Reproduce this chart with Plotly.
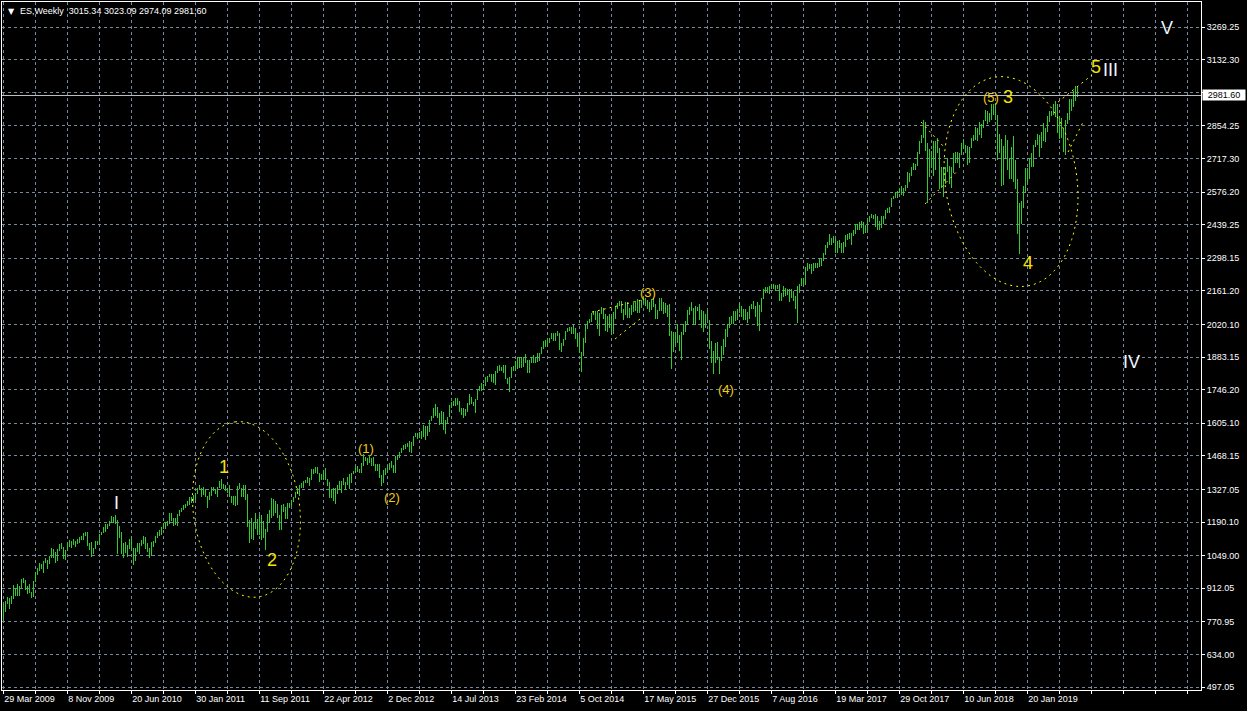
import pandas as pd
import numpy as np
import plotly.graph_objects as go

# ---------------- data (weekly bars, week starting Sunday) ----------------
first_week = "2009-03-29"
symbol = "ES,Weekly"
header_ohlc = [3015.34, 3023.09, 2974.09, 2981.60]

low_2009 = [779, 814, 844, 826, 845, 865, 878, 880, 881, 915, 932, 903, 888, 893, 869, 875, 937, 967, 985, 991,
            978, 1017, 991, 1015, 1040, 1039, 1019, 1025, 1069, 1075, 1033, 1029, 1067, 1085, 1083, 1095, 1086, 1097, 1102, 1114]
high_2009 = [845, 857, 876, 870, 880, 925, 915, 930, 920, 951, 956, 945, 922, 931, 898, 943, 980, 996, 1018, 1013,
             1027, 1039, 1029, 1049, 1080, 1078, 1066, 1076, 1096, 1101, 1086, 1071, 1101, 1113, 1112, 1119, 1112, 1118, 1128, 1130]

low_2010 = [1116, 1131, 1090, 1071, 1044, 1056, 1075, 1092, 1099, 1135, 1143, 1150, 1161, 1175, 1186, 1185, 1181,
            1056, 1125, 1056, 1040, 1060, 1043, 1078, 1067, 1010, 1028, 1064, 1056, 1088, 1098, 1076, 1064, 1040, 1046,
            1086, 1101, 1122, 1131, 1136, 1159, 1160, 1174, 1180, 1194, 1173, 1176, 1173, 1216, 1232, 1240, 1251]
high_2010 = [1145, 1150, 1150, 1103, 1105, 1080, 1112, 1111, 1140, 1150, 1170, 1181, 1181, 1195, 1214, 1213, 1220,
             1200, 1173, 1150, 1104, 1106, 1092, 1120, 1131, 1080, 1079, 1100, 1104, 1115, 1130, 1129, 1100, 1081, 1105,
             1112, 1131, 1149, 1158, 1168, 1185, 1190, 1196, 1227, 1226, 1207, 1206, 1225, 1240, 1248, 1260, 1264]

low_2011 = [1257, 1262, 1271, 1270, 1281, 1306, 1323, 1294, 1302, 1294, 1249, 1284, 1300, 1322, 1306, 1294, 1332,
            1330, 1329, 1322, 1310, 1297, 1268, 1262, 1258, 1262, 1330, 1295, 1294, 1282, 1168, 1101, 1120, 1114, 1160,
            1136, 1137, 1115, 1125, 1074, 1150, 1188, 1208, 1215, 1226, 1209, 1158, 1158, 1231, 1202, 1202, 1248]
high_2011 = [1278, 1294, 1297, 1303, 1312, 1331, 1344, 1333, 1337, 1330, 1300, 1316, 1336, 1339, 1329, 1339, 1364,
             1370, 1351, 1346, 1335, 1346, 1301, 1298, 1298, 1340, 1356, 1333, 1347, 1345, 1307, 1200, 1208, 1190, 1230,
             1204, 1220, 1220, 1195, 1160, 1224, 1240, 1292, 1285, 1277, 1266, 1218, 1260, 1267, 1255, 1268, 1270]

low_2012 = [1258, 1274, 1290, 1306, 1300, 1333, 1335, 1354, 1355, 1340, 1368, 1391, 1398, 1392, 1357, 1366, 1366, 1367,
            1343, 1291, 1291, 1277, 1266, 1306, 1323, 1310, 1346, 1325, 1345, 1329, 1354, 1393, 1400, 1402, 1397,
            1396, 1426, 1448, 1430, 1437, 1425, 1426, 1403, 1405, 1373, 1343, 1355, 1387, 1398, 1408, 1418, 1398, 1398]
high_2012 = [1284, 1296, 1316, 1333, 1345, 1355, 1363, 1368, 1378, 1374, 1413, 1414, 1420, 1423, 1398, 1392, 1405, 1416,
             1370, 1358, 1328, 1334, 1335, 1345, 1364, 1362, 1375, 1357, 1380, 1392, 1395, 1406, 1420, 1426, 1414,
             1438, 1474, 1465, 1460, 1470, 1460, 1465, 1435, 1434, 1434, 1388, 1410, 1417, 1422, 1438, 1448, 1430, 1467]

low_2013 = [1451, 1461, 1481, 1493, 1495, 1506, 1485, 1478, 1511, 1548, 1538, 1545, 1539, 1548, 1536, 1550, 1570,
            1614, 1625, 1635, 1628, 1598, 1600, 1576, 1560, 1600, 1630, 1670, 1677, 1676, 1683, 1652, 1639, 1627,
            1636, 1654, 1682, 1686, 1676, 1646, 1701, 1740, 1742, 1746, 1760, 1780, 1798, 1779, 1772, 1767, 1817, 1826]
high_2013 = [1472, 1485, 1503, 1514, 1518, 1524, 1530, 1525, 1552, 1564, 1563, 1570, 1573, 1597, 1593, 1592, 1618,
             1635, 1668, 1687, 1674, 1647, 1655, 1654, 1620, 1632, 1680, 1693, 1698, 1709, 1709, 1697, 1670, 1670,
             1666, 1689, 1729, 1717, 1696, 1705, 1745, 1761, 1775, 1771, 1798, 1805, 1813, 1810, 1811, 1823, 1844, 1849]

low_2014 = [1823, 1815, 1790, 1770, 1737, 1795, 1824, 1825, 1834, 1839, 1839, 1842, 1857, 1814, 1814, 1856, 1860,
            1860, 1862, 1868, 1897, 1915, 1925, 1925, 1944, 1957, 1952, 1951, 1970, 1914, 1904, 1928, 1953, 1990, 1993,
            1980, 1978, 1960, 1926, 1902, 1820, 1886, 1940, 2001, 2025, 2030, 2060, 2040, 2000, 1972, 2065, 2043]
high_2014 = [1843, 1850, 1850, 1795, 1798, 1841, 1847, 1867, 1883, 1883, 1884, 1884, 1897, 1872, 1869, 1885, 1891,
             1883, 1902, 1901, 1925, 1950, 1955, 1963, 1965, 1985, 1982, 1984, 1991, 1985, 1942, 1958, 1992, 2005, 2011,
             2008, 2019, 2007, 1985, 1977, 1905, 1965, 2019, 2034, 2042, 2067, 2075, 2078, 2075, 2070, 2093, 2091]

low_2015 = [1992, 1988, 2004, 1980, 1981, 2041, 2085, 2098, 2067, 2039, 2061, 2045, 2045, 2059, 2072, 2078, 2067,
            2068, 2089, 2115, 2097, 2085, 2072, 2080, 2095, 2044, 2044, 2076, 2076, 2064, 2067, 2052, 1971, 1831, 1903,
            1935, 1940, 1908, 1871, 1976, 1990, 2018, 2060, 2076, 2020, 2019, 2076, 2040, 2005, 1990, 2005, 2040]
high_2015 = [2064, 2056, 2064, 2057, 2072, 2097, 2111, 2119, 2117, 2083, 2114, 2114, 2089, 2103, 2111, 2120, 2126,
             2117, 2123, 2134, 2129, 2121, 2115, 2126, 2130, 2106, 2082, 2130, 2132, 2114, 2112, 2103, 2104, 1994, 1990,
             1988, 2020, 1975, 1990, 2020, 2035, 2079, 2094, 2116, 2090, 2097, 2095, 2105, 2081, 2076, 2065, 2082]

low_2016 = [1918, 1857, 1812, 1860, 1872, 1810, 1868, 1891, 1925, 1969, 2004, 2022, 2020, 2033, 2039, 2070, 2052,
            2039, 2039, 2025, 2044, 2085, 2085, 2050, 2015, 1991, 2074, 2128, 2154, 2150, 2148, 2168, 2170, 2160, 2167,
            2118, 2119, 2135, 2140, 2145, 2114, 2130, 2120, 2084, 2028, 2150, 2180, 2185, 2185, 2245, 2253, 2233]
high_2016 = [2038, 1950, 1910, 1940, 1947, 1885, 1930, 1960, 2000, 2023, 2050, 2056, 2075, 2075, 2083, 2111, 2096,
             2083, 2084, 2071, 2096, 2105, 2120, 2096, 2113, 2102, 2130, 2170, 2176, 2176, 2183, 2188, 2188, 2187, 2185,
             2188, 2150, 2180, 2175, 2170, 2170, 2170, 2160, 2140, 2180, 2190, 2214, 2214, 2260, 2278, 2274, 2273]

low_2017 = [2245, 2255, 2255, 2260, 2265, 2285, 2310, 2340, 2355, 2355, 2360, 2320, 2322, 2340, 2320, 2322, 2345, 2375,
            2380, 2352, 2390, 2400, 2415, 2415, 2425, 2400, 2405, 2410, 2450, 2465, 2462, 2430, 2415, 2415, 2425,
            2440, 2462, 2490, 2490, 2515, 2545, 2550, 2550, 2570, 2565, 2560, 2580, 2595, 2620, 2645, 2670, 2670, 2685]
high_2017 = [2280, 2280, 2280, 2300, 2300, 2320, 2352, 2368, 2400, 2385, 2390, 2380, 2370, 2375, 2360, 2365, 2395, 2400,
             2405, 2405, 2418, 2440, 2442, 2450, 2455, 2450, 2437, 2462, 2475, 2485, 2480, 2485, 2475, 2455, 2475,
             2475, 2500, 2508, 2515, 2550, 2560, 2575, 2580, 2590, 2600, 2595, 2605, 2660, 2655, 2680, 2700, 2695, 2745]

low_2018 = [2735, 2780, 2805, 2750, 2530, 2640, 2675, 2645, 2670, 2740, 2590, 2595, 2555, 2610, 2660, 2610, 2595,
            2655, 2700, 2700, 2675, 2730, 2755, 2740, 2690, 2700, 2760, 2790, 2795, 2790, 2815, 2805, 2845, 2875,
            2860, 2870, 2880, 2900, 2880, 2710, 2740, 2600, 2605, 2720, 2670, 2630, 2630, 2620, 2590, 2400, 2316, 2440]
high_2018 = [2790, 2815, 2880, 2870, 2780, 2755, 2750, 2790, 2790, 2805, 2760, 2680, 2680, 2680, 2720, 2685, 2680,
             2740, 2745, 2745, 2740, 2780, 2800, 2775, 2770, 2765, 2805, 2815, 2850, 2845, 2870, 2860, 2880, 2920,
             2915, 2910, 2945, 2945, 2950, 2900, 2820, 2800, 2770, 2815, 2795, 2720, 2765, 2810, 2710, 2630, 2530, 2540]

low_2019 = [2510, 2570, 2615, 2630, 2680, 2680, 2765, 2775, 2725, 2760, 2790, 2785, 2830, 2870, 2895, 2900, 2890,
            2825, 2800, 2805, 2745, 2730, 2860, 2880, 2915, 2935, 2960, 2974.09]
high_2019 = [2600, 2675, 2675, 2715, 2740, 2775, 2795, 2820, 2815, 2830, 2865, 2845, 2895, 2915, 2915, 2945, 2960,
             2945, 2895, 2885, 2840, 2880, 2910, 2965, 2965, 3000, 3020, 3023.09]

price_ticks = [3269.25, 3132.30, 2993.35, 2854.25, 2717.30, 2576.20, 2439.25, 2298.15, 2161.20, 2020.10, 1883.15,
               1746.20, 1605.10, 1468.15, 1327.05, 1190.10, 1049.00, 912.05, 770.95, 634.00, 497.05]
price_tick_text = ["3269.25", "3132.30", "", "2854.25", "2717.30", "2576.20", "2439.25", "2298.15", "2161.20",
                   "2020.10", "1883.15", "1746.20", "1605.10", "1468.15", "1327.05", "1190.10", "1049.00", "912.05",
                   "770.95", "634.00", "497.05"]
date_labels = ["29 Mar 2009", "8 Nov 2009", "20 Jun 2010", "30 Jan 2011", "11 Sep 2011", "22 Apr 2012",
               "2 Dec 2012", "14 Jul 2013", "23 Feb 2014", "5 Oct 2014", "17 May 2015", "27 Dec 2015",
               "7 Aug 2016", "19 Mar 2017", "29 Oct 2017", "10 Jun 2018", "20 Jan 2019"]

# Elliott wave labels: (text, week index, price, font size, colour)
wave_labels = [
    ("I", 56.4, 1272, 18, "#EEF6FF"),
    ("1", 110.4, 1421, 18, "#F2E20A"),
    ("2", 134.4, 1031, 18, "#F2E20A"),
    ("(1)", 181.2, 1500, 13, "#F0CC10"),
    ("(2)", 194.2, 1294, 13, "#F0CC10"),
    ("(3)", 322.4, 2153, 13, "#F0CC10"),
    ("(4)", 361.2, 1748, 13, "#F0CC10"),
    ("(5)", 494.1, 2972, 13, "#F0CC10"),
    ("3", 502.2, 2975, 18, "#F2E20A"),
    ("4", 512.4, 2279, 18, "#F2E20A"),
    ("5", 546.2, 3102, 18, "#F2E20A"),
    ("III", 553.7, 3089, 18, "#EEF6FF"),
    ("V", 582.0, 3264, 18, "#EEF6FF"),
    ("IV", 564.2, 1863, 18, "#EEF6FF"),
]
# dotted ellipses: (centre week, centre price, semi-major px, semi-minor px, tilt deg)
ellipses = [(121.6, 1243, 88.3, 53.2, 7.5), (503.9, 2620, 105.7, 65.8, 8.7)]
# dotted trend lines: (week0, price0, week1, price1)
trend_lines = [
    (294.4, 2072, 319.4, 2123),
    (305.9, 1959, 318.4, 2043),
    (458.9, 2870, 470.4, 2765),
    (460.9, 2526, 476.4, 2659),
    (527.4, 2954, 544.4, 3068),
    (532.4, 2744, 539.9, 2870),
]

# ---------------- assembly ----------------
lows = (low_2009 + low_2010 + low_2011 + low_2012 + low_2013 + low_2014 + low_2015 + low_2016 +
        low_2017 + low_2018 + low_2019)
highs = (high_2009 + high_2010 + high_2011 + high_2012 + high_2013 + high_2014 + high_2015 + high_2016 +
         high_2017 + high_2018 + high_2019)
weeks = pd.date_range(first_week, periods=len(lows), freq="7D")
t0 = weeks[0]

PLOT_W, PLOT_H = 1199, 688
PX_PER_WEEK = 2.0
PRICE_PER_PX = 4.2
WEEK = pd.Timedelta(days=7)

x_start = t0 - WEEK * 0.625
x_end = x_start + WEEK * (PLOT_W / PX_PER_WEEK)
y_top = price_ticks[0] + 25 * PRICE_PER_PX
y_bot = y_top - PLOT_H * PRICE_PER_PX


def wk(k):
    return t0 + WEEK * k


def ms(ts):
    return ts.value / 1e6


GRID = "#778899"
FONT = "Liberation Sans"
YEL = "#FFFF00"

fig = go.Figure()
fig.add_trace(go.Bar(
    x=weeks, y=np.array(highs, float) - np.array(lows, float), base=lows,
    width=WEEK.total_seconds() * 1000 * 0.5,
    marker=dict(color="rgba(50,205,50,0.99)", line=dict(width=0)),
    hoverinfo="skip"))

# x ticks every 16 weeks, labelled every 32 weeks
label_dates = pd.to_datetime(date_labels, format="%d %b %Y")
label_map = {d: s for d, s in zip(label_dates, date_labels)}
xt = pd.date_range(t0, x_end, freq="112D")
xtt = [label_map.get(d, "") for d in xt]

shapes = []
# current price line
shapes.append(dict(type="line", xref="paper", x0=0, x1=1, yref="y", y0=header_ohlc[3], y1=header_ohlc[3],
                   line=dict(color="#C0C0C0", width=1)))
for (kc, pc, a, b, tilt) in ellipses:
    phi = np.radians(tilt)
    ux, uy = -np.sin(phi), -np.cos(phi)
    vx, vy = np.cos(phi), -np.sin(phi)
    t = np.linspace(0, 2 * np.pi, 121)
    dx = a * np.cos(t) * ux + b * np.sin(t) * vx
    dy = a * np.cos(t) * uy + b * np.sin(t) * vy
    ks = kc + dx / PX_PER_WEEK
    ps = pc - dy * PRICE_PER_PX
    pts = [f"{ms(wk(k)):.0f},{p:.2f}" for k, p in zip(ks, ps)]
    path = "M " + " L ".join(pts) + " Z"
    shapes.append(dict(type="path", xref="x", yref="y", path=path,
                       line=dict(color=YEL, width=1, dash="2px,4px")))
for (k0, p0, k1, p1) in trend_lines:
    shapes.append(dict(type="line", xref="x", yref="y", x0=wk(k0), y0=p0, x1=wk(k1), y1=p1,
                       line=dict(color=YEL, width=1, dash="2px,4px")))

annotations = []
for (txt, k, p, size, col) in wave_labels:
    annotations.append(dict(x=wk(k), y=p, xref="x", yref="y", text=txt, showarrow=False,
                            xanchor="center", yanchor="middle",
                            font=dict(family=FONT, size=size, color=col)))
# header
annotations.append(dict(xref="paper", yref="paper", x=4 / PLOT_W, y=1, yshift=-3, xanchor="left", yanchor="top",
                        text="▼", showarrow=False, font=dict(family="DejaVu Sans", size=8, color="white")))
annotations.append(dict(xref="paper", yref="paper", x=16 / PLOT_W, y=1, yshift=-2, xanchor="left", yanchor="top",
                        text=symbol + "  " + " ".join(f"{v:.2f}" for v in header_ohlc), showarrow=False,
                        font=dict(family=FONT, size=9, color="white")))
# current price tag
annotations.append(dict(xref="paper", yref="y", x=1, xshift=1, y=header_ohlc[3], xanchor="left", yanchor="middle",
                        text=f"{header_ohlc[3]:.2f}", showarrow=False, bgcolor="white", borderpad=0,
                        width=42, height=10, font=dict(family=FONT, size=9, color="black")))

fig.update_layout(
    width=1247, height=711, margin=dict(l=2, r=46, t=2, b=21),
    paper_bgcolor="black", plot_bgcolor="black", showlegend=False,
    bargap=0, bargroupgap=0, hovermode=False,
    shapes=shapes, annotations=annotations,
    xaxis=dict(type="date", range=[x_start, x_end], tickvals=xt, ticktext=xtt, tickangle=0,
               showgrid=True, gridcolor=GRID, griddash="3px,3px", gridwidth=1,
               showline=True, linecolor="white", linewidth=1, mirror=True,
               ticks="outside", ticklen=3, tickcolor="white", ticklabelposition="outside right",
               tickfont=dict(family=FONT, size=9, color="white"), zeroline=False, fixedrange=True),
    yaxis=dict(side="right", range=[y_bot, y_top], tickvals=price_ticks, ticktext=price_tick_text,
               showgrid=True, gridcolor=GRID, griddash="3px,3px", gridwidth=1,
               showline=True, linecolor="white", linewidth=1, mirror=True,
               ticks="outside", ticklen=3, tickcolor="white",
               tickfont=dict(family=FONT, size=9, color="white"), zeroline=False, fixedrange=True),
)

fig.write_html("out.html", config={"displayModeBar": False},
               post_script="document.body.style.margin='0';document.body.style.background='black';")
